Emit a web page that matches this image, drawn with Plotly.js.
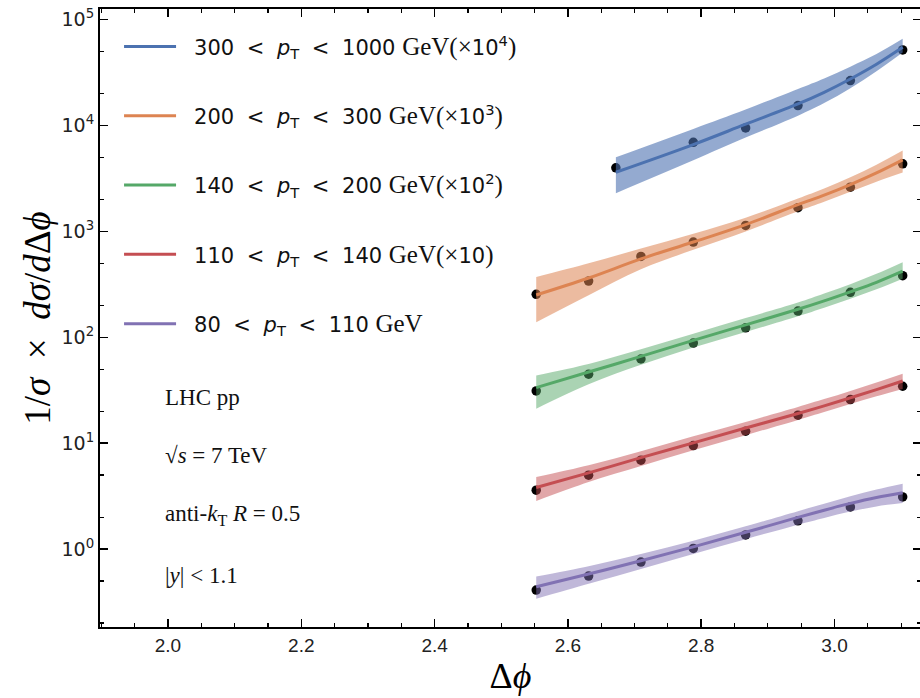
<!DOCTYPE html>
<html>
<head>
<meta charset="utf-8">
<script src="https://cdn.plot.ly/plotly-3.0.1.min.js"></script>
<style>
html,body{margin:0;padding:0;overflow:hidden;background:#fff;}
#chart{width:922px;height:698px;}
</style>
</head>
<body>
<div id="chart"></div>
<script>
// ---- data ----
// measurement bin centres
const xBins = [2.5525, 2.6311, 2.7096, 2.7882, 2.8667, 2.9452, 3.0238, 3.1023];
const xBinsHigh = [2.672, 2.7882, 2.8667, 2.9452, 3.0238, 3.1023];
// theory curve sample points
const xTheo = [2.5525, 2.6311, 2.7096, 2.7882, 2.8667, 2.9452, 2.9845, 3.0238, 3.063, 3.1023];
const xTheoHigh = [2.672, 2.7882, 2.8667, 2.9452, 2.9845, 3.0238, 3.063, 3.1023];

const S = '\u2002\u200A';
const serifSpan = s => '<span style="font-family:\'Liberation Serif\',serif;font-size:25px">' + s + '</span>';
const seriesNames = [
  '300' + S + '<' + S + '<i>p</i><sub>T</sub>' + S + '<' + S + '1000 ' + serifSpan('GeV(×') + '10<sup>4</sup>' + serifSpan(')'),
  '200' + S + '<' + S + '<i>p</i><sub>T</sub>' + S + '<' + S + '300 ' + serifSpan('GeV(×') + '10<sup>3</sup>' + serifSpan(')'),
  '140' + S + '<' + S + '<i>p</i><sub>T</sub>' + S + '<' + S + '200 ' + serifSpan('GeV(×') + '10<sup>2</sup>' + serifSpan(')'),
  '110' + S + '<' + S + '<i>p</i><sub>T</sub>' + S + '<' + S + '140 ' + serifSpan('GeV(×') + '10' + serifSpan(')'),
  '80' + S + '<' + S + '<i>p</i><sub>T</sub>' + S + '<' + S + '110 ' + serifSpan('GeV')
];
const seriesColors = ['#4C72B0', '#DD8452', '#55A868', '#C44E52', '#8172B3'];
const bandColors = ['rgba(76,114,176,0.6)', 'rgba(221,132,82,0.55)', 'rgba(85,168,104,0.5)', 'rgba(196,78,82,0.5)', 'rgba(129,114,179,0.5)'];

// measured points
const data300 = [3985, 6950, 9500, 15450, 26600, 51800];
const data200 = [255, 340, 581, 793, 1140, 1675, 2620, 4355];
const data140 = [31.2, 44.8, 62.4, 88.3, 123, 177, 266, 382];
const data110 = [3.6, 4.99, 6.92, 9.5, 12.97, 18.4, 25.8, 34.5];
const data80  = [0.41, 0.556, 0.753, 1.015, 1.36, 1.85, 2.5, 3.11];

// theory central curves
const theo300 = [3625, 6620, 10300, 16000, 20600, 27500, 37900, 54800];
const theo200 = [251, 363, 550, 794, 1160, 1790, 2200, 2770, 3570, 4745];
const theo140 = [33.5, 47, 66, 93.7, 131, 184, 221, 269, 331, 422];
const theo110 = [3.82, 5.25, 7.3, 10.07, 13.9, 19.05, 22.5, 26.8, 32.1, 38.7];
const theo80  = [0.44, 0.581, 0.776, 1.05, 1.44, 1.99, 2.33, 2.70, 3.07, 3.4];

// theory uncertainty bands
const up300 = [5020, 9300, 14200, 22200, 27900, 36000, 47400, 65900];
const lo300 = [2300, 4700, 7700, 12400, 16300, 22500, 32600, 49000];
const up200 = [371, 500, 690, 950, 1350, 2050, 2550, 3250, 4270, 5810];
const lo200 = [139, 250, 440, 670, 1000, 1550, 1905, 2370, 2950, 3600];
const up140 = [43.7, 56, 77, 108, 152, 213, 259, 318, 398, 513];
const lo140 = [21.2, 36, 55, 80, 112, 158, 190, 231, 284, 358];
const up110 = [4.8, 6.2, 8.4, 11.6, 15.9, 22.0, 26.1, 31.2, 37.5, 45.4];
const lo110 = [2.85, 4.3, 6.1, 8.6, 11.9, 16.6, 19.7, 23.4, 27.7, 32.5];
const up80  = [0.55, 0.69, 0.90, 1.20, 1.64, 2.28, 2.68, 3.15, 3.65, 4.15];
const lo80  = [0.34, 0.47, 0.65, 0.90, 1.24, 1.70, 1.97, 2.26, 2.53, 2.72];

const yTickVals = [1, 10, 100, 1000, 10000, 100000];
const yTickText = ['10<sup>0</sup>', '10<sup>1</sup>', '10<sup>2</sup>', '10<sup>3</sup>', '10<sup>4</sup>', '10<sup>5</sup>'];
const xTickVals = [2.0, 2.2, 2.4, 2.6, 2.8, 3.0];
const xTickText = ['2.0', '2.2', '2.4', '2.6', '2.8', '3.0'];

// ---- build traces ----
const xsPts = [xBinsHigh, xBins, xBins, xBins, xBins];
const xsTheo = [xTheoHigh, xTheo, xTheo, xTheo, xTheo];
const pts = [data300, data200, data140, data110, data80];
const theo = [theo300, theo200, theo140, theo110, theo80];
const ups = [up300, up200, up140, up110, up80];
const los = [lo300, lo200, lo140, lo110, lo80];

const traces = [];
for (let i = 0; i < 5; i++) {
  traces.push({
    x: xsPts[i], y: pts[i], type: 'scatter', mode: 'markers',
    marker: {color: '#000', size: 9.5}, showlegend: false, hoverinfo: 'skip'
  });
}
for (let i = 0; i < 5; i++) {
  traces.push({
    x: xsTheo[i], y: los[i], type: 'scatter', mode: 'lines',
    line: {width: 0, shape: 'spline', smoothing: 1}, showlegend: false, hoverinfo: 'skip'
  });
  traces.push({
    x: xsTheo[i], y: ups[i], type: 'scatter', mode: 'lines', fill: 'tonexty',
    fillcolor: bandColors[i],
    line: {width: 0, shape: 'spline', smoothing: 1}, showlegend: false, hoverinfo: 'skip'
  });
  traces.push({
    x: xsTheo[i], y: theo[i], type: 'scatter', mode: 'lines', name: seriesNames[i],
    line: {color: seriesColors[i], width: 3, shape: 'spline', smoothing: 1},
    legendgroup: 'g' + i, showlegend: true
  });
}

const sans = 'DejaVu Sans, sans-serif';
const serif = 'Liberation Serif, serif';

const layout = {
  width: 922, height: 698,
  margin: {l: 100, r: 1, t: 9, b: 71},
  paper_bgcolor: '#fff', plot_bgcolor: '#fff',
  showlegend: true,
  legend: {
    x: 0.0293, y: 0.972, xanchor: 'left', yanchor: 'top',
    bgcolor: 'rgba(0,0,0,0)', borderwidth: 0,
    font: {family: sans, size: 21, color: '#111'},
    tracegroupgap: 39, itemwidth: 60
  },
  xaxis: {
    type: 'linear', range: [1.898, 3.1298],
    tickvals: xTickVals, ticktext: xTickText,
    ticks: 'inside', ticklen: 8, tickwidth: 1.5, tickcolor: '#000',
    minor: {ticks: 'inside', ticklen: 4, tickwidth: 1.2, tickcolor: '#000', dtick: 0.05, tick0: 0, showgrid: false},
    showline: true, linecolor: '#000', linewidth: 2, mirror: 'allticks',
    showgrid: false, zeroline: false,
    tickfont: {family: 'Liberation Sans Narrow, Liberation Sans, sans-serif', size: 19, color: '#222'},
    title: {text: 'Δ<i>ϕ</i>', font: {family: serif, size: 36, color: '#000'}, standoff: 8}
  },
  yaxis: {
    type: 'log', range: [-0.736, 5.101],
    tickvals: yTickVals, ticktext: yTickText,
    ticks: 'inside', ticklen: 8, tickwidth: 1.5, tickcolor: '#000',
    minor: {ticks: 'inside', ticklen: 4, tickwidth: 1.2, tickcolor: '#000', showgrid: false},
    showline: true, linecolor: '#000', linewidth: 2, mirror: 'allticks',
    showgrid: false, zeroline: false,
    tickfont: {family: sans, size: 19, color: '#222'},
    title: {text: '1/<i>σ</i>' + '\u2002' + '×' + '\u2002' + '<i>dσ</i>/<i>d</i>Δ<i>ϕ</i>', font: {family: serif, size: 37, color: '#000'}, standoff: 0}
  },
  annotations: [
    {text: 'LHC pp'},
    {text: '√<i>s</i> = 7 TeV'},
    {text: 'anti-<i>k</i><sub>T</sub> <i>R</i> = 0.5'},
    {text: '|<i>y</i>| < 1.1'}
  ].map((a, k) => Object.assign(a, {
    xref: 'paper', yref: 'paper', x: 0.077, xanchor: 'left', yanchor: 'middle',
    y: [0.372, 0.278, 0.181, 0.084][k], showarrow: false,
    font: {family: serif, size: 23, color: '#111'}
  }))
};

Plotly.newPlot('chart', traces, layout, {displayModeBar: false, staticPlot: true}).then(() => {
  // lengthen legend line samples to match the reference
  document.querySelectorAll('.legendlines path').forEach(p => p.setAttribute('d', 'M-2,0h54'));
});
</script>
</body>
</html>
